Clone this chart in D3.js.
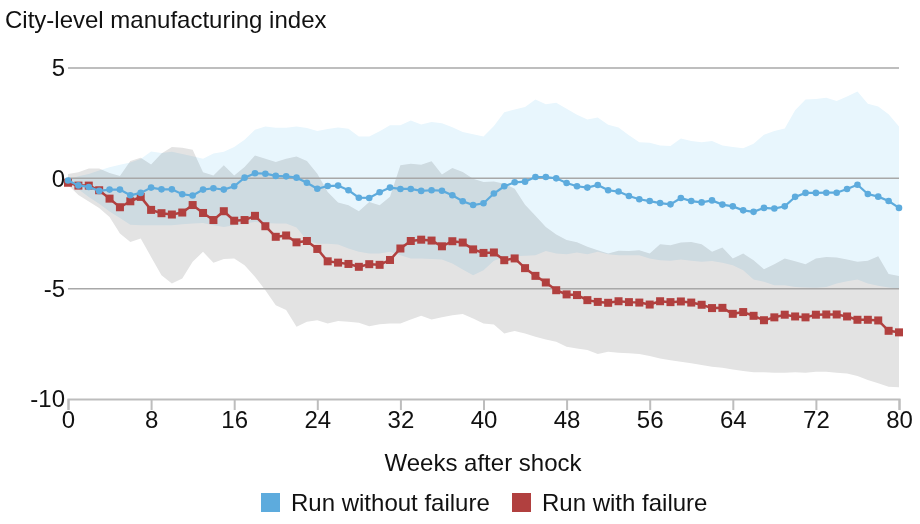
<!DOCTYPE html>
<html>
<head>
<meta charset="utf-8">
<script src="https://cdn.jsdelivr.net/npm/d3@7"></script>
<style>
  body { margin: 0; background: #fff; }
  svg { font-family: "Liberation Sans", Arial, sans-serif; }
</style>
</head>
<body>
<svg width="920" height="524"></svg>
<script>
const weeks = [0,1,2,3,4,5,6,7,8,9,10,11,12,13,14,15,16,17,18,19,20,21,22,23,24,25,26,27,28,29,30,31,32,33,34,35,36,37,38,39,40,41,42,43,44,45,46,47,48,49,50,51,52,53,54,55,56,57,58,59,60,61,62,63,64,65,66,67,68,69,70,71,72,73,74,75,76,77,78,79,80];
const xTicks = [0, 8, 16, 24, 32, 40, 48, 56, 64, 72, 80];
const yTicks = [5, 0, -5, -10];

// Run without failure: mean and band
const noFail = [-0.1,-0.32,-0.39,-0.57,-0.51,-0.51,-0.77,-0.66,-0.42,-0.5,
  -0.5,-0.72,-0.78,-0.51,-0.45,-0.51,-0.36,0.03,0.23,0.21,
  0.11,0.09,0.03,-0.2,-0.47,-0.35,-0.33,-0.54,-0.88,-0.89,
  -0.63,-0.42,-0.48,-0.48,-0.57,-0.54,-0.56,-0.77,-1.04,-1.21,
  -1.13,-0.69,-0.36,-0.18,-0.15,0.06,0.06,0.0,-0.21,-0.36,
  -0.42,-0.3,-0.54,-0.6,-0.8,-0.95,-1.03,-1.12,-1.18,-0.89,
  -1.03,-1.09,-1.0,-1.19,-1.27,-1.45,-1.52,-1.34,-1.37,-1.27,
  -0.84,-0.66,-0.66,-0.65,-0.65,-0.48,-0.29,-0.71,-0.83,-1.03,
  -1.34];
const noFailHi = [-0.05,0.1,0.2,0.35,0.5,0.62,0.72,0.88,1.22,1.15,
  1.2,1.1,1.0,0.89,1.12,1.2,1.42,1.75,2.2,2.35,
  2.29,2.29,2.35,2.28,2.14,2.24,2.3,2.25,1.9,1.9,
  2.13,2.4,2.4,2.62,2.44,2.55,2.5,2.32,2.1,2.0,
  1.9,2.37,3.0,3.12,3.23,3.57,3.36,3.42,3.15,2.88,
  2.67,2.76,2.43,2.3,1.95,1.64,1.61,1.49,1.46,1.81,
  1.69,1.64,1.69,1.49,1.42,1.36,1.57,1.98,2.14,2.26,
  3.08,3.57,3.6,3.65,3.5,3.71,3.94,3.38,3.26,2.9,
  2.35];
const noFailLo = [-0.2,-0.5,-0.85,-1.15,-1.5,-1.8,-2.1,-2.13,-2.13,-2.13,
  -2.13,-2.08,-2.05,-2.02,-2.13,-2.2,-2.13,-2.05,-1.98,-2.02,
  -2.05,-2.05,-2.23,-2.81,-2.96,-2.96,-3.0,-3.18,-3.33,-3.41,
  -3.41,-3.33,-3.48,-3.63,-3.63,-3.66,-3.68,-3.86,-4.13,-4.39,
  -4.16,-3.74,-3.56,-3.53,-3.51,-3.48,-3.29,-3.41,-3.44,-3.36,
  -3.44,-3.33,-3.44,-3.48,-3.48,-3.48,-3.63,-3.71,-3.74,-3.68,
  -3.74,-3.78,-3.75,-3.83,-3.94,-4.16,-4.58,-4.69,-4.84,-4.84,
  -4.92,-4.95,-4.96,-4.92,-4.77,-4.66,-4.58,-4.77,-4.87,-4.95,
  -4.99];

// Run with failure: mean and band
const withFail = [-0.2,-0.33,-0.33,-0.54,-0.92,-1.31,-1.04,-0.84,-1.43,-1.58,
  -1.64,-1.55,-1.21,-1.57,-1.89,-1.49,-1.92,-1.89,-1.7,-2.17,
  -2.65,-2.59,-2.9,-2.84,-3.2,-3.76,-3.82,-3.88,-4.01,-3.89,
  -3.92,-3.7,-3.18,-2.84,-2.78,-2.82,-3.08,-2.85,-2.91,-3.22,
  -3.38,-3.36,-3.71,-3.63,-4.07,-4.42,-4.72,-5.07,-5.26,-5.29,
  -5.52,-5.6,-5.64,-5.57,-5.61,-5.63,-5.72,-5.57,-5.61,-5.58,
  -5.63,-5.73,-5.88,-5.87,-6.14,-6.06,-6.23,-6.43,-6.3,-6.18,
  -6.26,-6.3,-6.18,-6.17,-6.17,-6.26,-6.41,-6.41,-6.44,-6.91,
  -6.98];
const withFailHi = [0.2,0.28,0.44,0.44,0.24,0.11,0.78,0.93,0.63,1.12,
  1.42,1.39,1.3,0.28,0.13,0.59,0.13,0.51,1.04,0.89,
  0.74,0.89,0.99,0.78,0.21,-0.62,-1.1,-1.22,-1.49,-1.07,
  -1.22,-0.84,0.59,0.66,0.62,0.77,0.17,0.47,0.29,-0.02,
  -0.17,-0.14,-0.24,-0.47,-1.2,-1.7,-2.2,-2.55,-2.8,-2.9,
  -3.1,-3.26,-3.41,-3.28,-3.29,-3.26,-3.41,-2.99,-3.03,-2.91,
  -2.88,-2.99,-3.33,-3.14,-3.63,-3.41,-3.71,-4.12,-3.89,-3.63,
  -3.76,-3.89,-3.63,-3.56,-3.59,-3.68,-3.78,-3.74,-3.53,-4.34,
  -4.43];
const withFailLo = [-0.3,-0.75,-1.05,-1.35,-1.75,-2.5,-2.88,-2.73,-3.56,-4.39,
  -4.77,-4.54,-3.78,-3.33,-3.83,-3.66,-3.63,-3.94,-4.46,-5.07,
  -5.75,-5.97,-6.73,-6.5,-6.43,-6.58,-6.47,-6.5,-6.55,-6.7,
  -6.61,-6.58,-6.58,-6.4,-6.23,-6.4,-6.3,-6.21,-6.15,-6.35,
  -6.58,-6.62,-7.03,-6.92,-7.03,-7.18,-7.3,-7.41,-7.63,-7.71,
  -7.78,-7.96,-7.86,-7.9,-7.93,-7.96,-8.05,-8.16,-8.24,-8.31,
  -8.38,-8.46,-8.54,-8.58,-8.66,-8.73,-8.79,-8.79,-8.81,-8.81,
  -8.79,-8.81,-8.76,-8.76,-8.81,-8.84,-8.96,-9.14,-9.29,-9.44,
  -9.47];

const blue = "#5dabdd";
const red = "#b1403f";
const fontSize = 24;

const svg = d3.select("svg");

const x = d3.scaleLinear().domain([0, 80]).range([68, 899]);
const y = d3.scaleLinear().domain([-10, 5]).range([399, 68]);

// bands
const band = (hi, lo) => d3.area()
  .x((d, i) => x(weeks[i]))
  .y0((d, i) => y(lo[i]))
  .y1((d, i) => y(hi[i]));

svg.append("path")
  .attr("d", band(noFailHi, noFailLo)(weeks))
  .attr("fill", "#e8f6fd");

svg.append("path")
  .attr("d", band(withFailHi, withFailLo)(weeks))
  .attr("fill", "#e3e3e3")
  .style("mix-blend-mode", "multiply");

// gridlines
svg.append("g")
  .selectAll("line")
  .data(yTicks.filter(d => d !== -10))
  .enter()
  .append("line")
  .attr("x1", x(0))
  .attr("x2", x(80))
  .attr("y1", d => y(d))
  .attr("y2", d => y(d))
  .attr("stroke", "#a8a8a8")
  .attr("stroke-width", 1.5);

// y axis labels
const yAxis = d3.axisLeft(y).tickValues(yTicks).tickSize(0).tickPadding(0)
  .tickFormat(d => d);
svg.append("g")
  .attr("transform", "translate(65,0)")
  .call(yAxis)
  .call(g => g.select(".domain").remove())
  .call(g => g.selectAll("text")
    .attr("font-size", fontSize)
    .attr("font-family", "Liberation Sans, Arial, sans-serif")
    .attr("fill", "#111"));

// x axis
const xAxis = d3.axisBottom(x).tickValues(xTicks).tickSize(11).tickPadding(1);
svg.append("g")
  .attr("transform", "translate(0," + y(-10) + ")")
  .call(xAxis)
  .call(g => g.select(".domain").attr("stroke", "#bdbdbd").attr("stroke-width", 2))
  .call(g => g.selectAll(".tick line").attr("stroke", "#bdbdbd").attr("stroke-width", 2))
  .call(g => g.selectAll("text")
    .attr("font-size", fontSize)
    .attr("font-family", "Liberation Sans, Arial, sans-serif")
    .attr("fill", "#111"));

// lines
const line = (vals) => d3.line()
  .x((d, i) => x(weeks[i]))
  .y((d, i) => y(vals[i]));

svg.append("path")
  .attr("d", line(withFail)(weeks))
  .attr("fill", "none")
  .attr("stroke", red)
  .attr("stroke-width", 2.5);

svg.append("g")
  .selectAll("rect")
  .data(withFail)
  .enter()
  .append("rect")
  .attr("x", (d, i) => x(weeks[i]) - 4)
  .attr("y", d => y(d) - 4)
  .attr("width", 8)
  .attr("height", 8)
  .attr("fill", red);

svg.append("path")
  .attr("d", line(noFail)(weeks))
  .attr("fill", "none")
  .attr("stroke", blue)
  .attr("stroke-width", 2.2);

svg.append("g")
  .selectAll("circle")
  .data(noFail)
  .enter()
  .append("circle")
  .attr("cx", (d, i) => x(weeks[i]))
  .attr("cy", d => y(d))
  .attr("r", 3.3)
  .attr("fill", blue);

// titles
svg.append("text")
  .attr("x", 5)
  .attr("y", 28)
  .attr("font-size", fontSize)
  .attr("fill", "#111")
  .text("City-level manufacturing index");

svg.append("text")
  .attr("x", 483)
  .attr("y", 471)
  .attr("text-anchor", "middle")
  .attr("font-size", fontSize)
  .attr("fill", "#111")
  .text("Weeks after shock");

// legend
const legend = [
  { label: "Run without failure", color: blue, x: 261 },
  { label: "Run with failure", color: red, x: 512 }
];
const lg = svg.append("g").selectAll("g").data(legend).enter().append("g");
lg.append("rect")
  .attr("x", d => d.x)
  .attr("y", 493)
  .attr("width", 19)
  .attr("height", 19)
  .attr("fill", d => d.color);
lg.append("text")
  .attr("x", d => d.x + 30)
  .attr("y", 511)
  .attr("font-size", fontSize)
  .attr("fill", "#111")
  .text(d => d.label);
</script>
</body>
</html>
